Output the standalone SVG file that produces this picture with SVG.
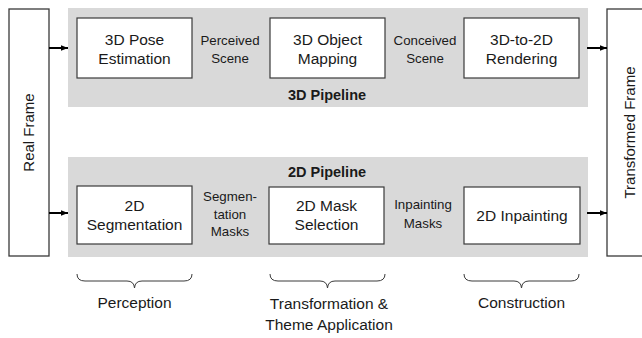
<svg xmlns="http://www.w3.org/2000/svg" width="642" height="338" viewBox="0 0 642 338">
<defs>
<style>
text{font-family:"Liberation Sans",Arial,sans-serif;fill:#1a1a1a;text-anchor:middle}
.panel{fill:#d9d9d9}
.box{fill:#fff;stroke:#3a3a3a;stroke-width:1.2}
.frame{fill:#fff;stroke:#3a3a3a;stroke-width:1.3}
.bt{font-size:15.5px}
.lt{font-size:13.3px}
.pt{font-size:14.5px;font-weight:bold}
.ft{font-size:15px}
.ct{font-size:15.5px}
.arr{stroke:#000;stroke-width:2;fill:none}
.brace{stroke:#3a3a3a;stroke-width:1;fill:none}
</style>
<marker id="ah" viewBox="0 0 8 8" refX="8" refY="4" markerWidth="7" markerHeight="7" markerUnits="userSpaceOnUse" orient="auto">
<path d="M0,0.8 L8,4 L0,7.2 Z" fill="#000"/>
</marker>
</defs>

<g id="panel-3d">
<rect class="panel" x="68" y="8" width="520" height="99"/>
<text class="pt" x="327" y="100">3D Pipeline</text>
</g>
<g id="panel-2d">
<rect class="panel" x="68" y="157" width="520" height="100"/>
<text class="pt" x="327" y="177">2D Pipeline</text>
</g>

<g id="real-frame">
<rect class="frame" x="9" y="9" width="40" height="247"/>
<text class="ft" transform="translate(34,132.5) rotate(-90)">Real Frame</text>
</g>
<g id="transformed-frame">
<rect class="frame" x="607" y="9" width="44" height="247"/>
<text class="ft" transform="translate(635,132.5) rotate(-90)">Transformed Frame</text>
</g>

<g id="pose-estimation">
<rect class="box" x="77" y="18" width="115" height="60"/>
<text class="bt" x="134.5" y="45">3D Pose</text>
<text class="bt" x="134.5" y="64">Estimation</text>
</g>
<g id="object-mapping">
<rect class="box" x="270" y="18" width="115" height="60"/>
<text class="bt" x="327.5" y="45">3D Object</text>
<text class="bt" x="327.5" y="64">Mapping</text>
</g>
<g id="rendering">
<rect class="box" x="464" y="18" width="115" height="60"/>
<text class="bt" x="521.5" y="45">3D-to-2D</text>
<text class="bt" x="521.5" y="64">Rendering</text>
</g>

<g id="segmentation">
<rect class="box" x="77" y="186" width="115" height="58"/>
<text class="bt" x="134.5" y="211">2D</text>
<text class="bt" x="134.5" y="230">Segmentation</text>
</g>
<g id="mask-selection">
<rect class="box" x="269" y="187" width="115" height="57"/>
<text class="bt" x="326.5" y="211">2D Mask</text>
<text class="bt" x="326.5" y="230">Selection</text>
</g>
<g id="inpainting">
<rect class="box" x="464" y="187" width="116" height="57"/>
<text class="bt" x="522" y="221">2D Inpainting</text>
</g>

<g id="labels">
<text class="lt" x="230" y="45">Perceived</text>
<text class="lt" x="230" y="63">Scene</text>
<text class="lt" x="425" y="45">Conceived</text>
<text class="lt" x="425" y="63">Scene</text>
<text class="lt" x="230" y="201">Segmen-</text>
<text class="lt" x="230" y="218.5">tation</text>
<text class="lt" x="230" y="236">Masks</text>
<text class="lt" x="423" y="209">Inpainting</text>
<text class="lt" x="423" y="228">Masks</text>
</g>

<g id="connectors">
<line class="arr" x1="49" y1="48" x2="68" y2="48" marker-end="url(#ah)"/>
<line class="arr" x1="49" y1="213" x2="68" y2="213" marker-end="url(#ah)"/>
<line class="arr" x1="587" y1="48" x2="607" y2="48" marker-end="url(#ah)"/>
<line class="arr" x1="587" y1="213" x2="607" y2="213" marker-end="url(#ah)"/>
</g>

<g id="perception">
<path class="brace" d="M77,274 Q77,281 85,281 L127,281 Q134,281 134.5,288 Q135,281 142,281 L184,281 Q192,281 192,274"/>
<text class="ct" x="134.5" y="308">Perception</text>
</g>
<g id="transformation">
<path class="brace" d="M270,274 Q270,281 278,281 L320,281 Q327,281 327.5,288 Q328,281 335,281 L377,281 Q385,281 385,274"/>
<text class="ct" x="329" y="309">Transformation &amp;</text>
<text class="ct" x="329" y="330">Theme Application</text>
</g>
<g id="construction">
<path class="brace" d="M464,274 Q464,281 472,281 L514,281 Q521,281 521.5,288 Q522,281 529,281 L571,281 Q579,281 579,274"/>
<text class="ct" x="521.5" y="308">Construction</text>
</g>
</svg>
